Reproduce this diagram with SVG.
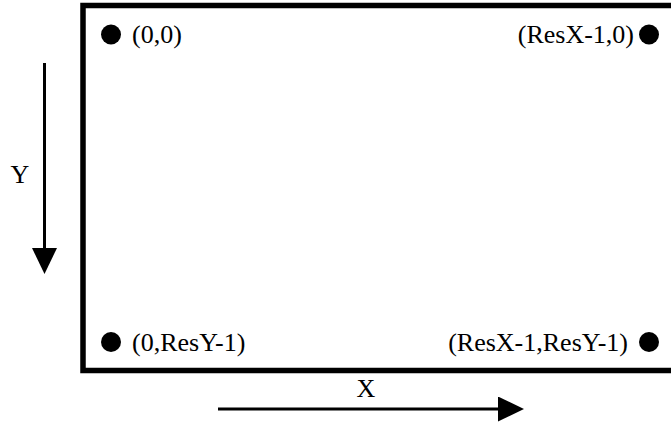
<svg xmlns="http://www.w3.org/2000/svg" width="671" height="424" viewBox="0 0 671 424">
<style>
text{font-family:"Liberation Serif","Times New Roman",serif;font-size:26px;fill:#000}
.frame{fill:none;stroke:#000;stroke-width:5.5}
.axis{stroke:#000;stroke-width:3;fill:none}
</style>
<defs>
<marker id="ah" viewBox="0 0 26 25" refX="0" refY="12.5" markerWidth="26" markerHeight="25" markerUnits="userSpaceOnUse" orient="auto">
<path d="M0,0 L26,12.5 L0,25 Z" fill="#000"/>
</marker>
</defs>
<g id="frame">
<path class="frame" d="M675 5.5 H83 V370.5 H675"/>
</g>
<g id="p00">
<circle cx="111" cy="34.5" r="10"/>
<text x="132" y="43">(0,0)</text>
</g>
<g id="pX0">
<circle cx="649" cy="34.5" r="10"/>
<text x="634" y="43" text-anchor="end">(ResX-1,0)</text>
</g>
<g id="p0Y">
<circle cx="111" cy="342" r="10"/>
<text x="132" y="351">(0,ResY-1)</text>
</g>
<g id="pXY">
<circle cx="649" cy="342" r="10"/>
<text x="628" y="351" text-anchor="end">(ResX-1,ResY-1)</text>
</g>
<g id="connectors">
<line class="axis" x1="44.5" y1="63" x2="44.5" y2="248" marker-end="url(#ah)"/>
<line class="axis" x1="218" y1="409" x2="498" y2="409" marker-end="url(#ah)"/>
</g>
<g id="labels">
<text x="20" y="183" text-anchor="middle">Y</text>
<text x="366" y="397" text-anchor="middle">X</text>
</g>
</svg>
